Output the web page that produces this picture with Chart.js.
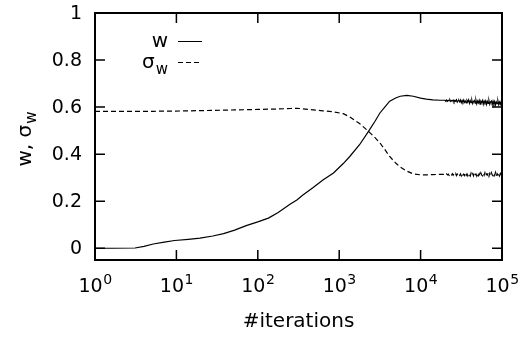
<!DOCTYPE html>
<html>
<head>
<meta charset="utf-8">
<script src="https://cdn.jsdelivr.net/npm/chart.js@4/dist/chart.umd.min.js"></script>
<style>
  html, body { margin: 0; padding: 0; background: #fff; }
  canvas { display: block; }
</style>
</head>
<body>
<canvas id="chart" width="520" height="337"></canvas>
<script>
// iteration counts (log spaced), then the noisy tail from ~2e4 to 1e5
const iterations = [
  1, 1.6, 3.1, 4, 5.2, 7.1, 9.5, 14, 19.5, 28, 38, 52, 72, 100, 135, 178, 251, 302,
  355, 479, 631, 851, 1122, 1349, 1778, 2291, 2754, 3162, 3631, 4169, 5012, 5623,
  6761, 8128, 10000, 11750, 14130, 17380,
  19950, 20420, 20890, 21380, 21880, 22390, 22910, 23440, 23990, 24550,
  25120, 25700, 26300, 26920, 27540, 28180, 28840, 29510, 30200, 30900,
  31620, 32360, 33110, 33880, 34670, 35480, 36310, 37150, 38020, 38900,
  39810, 40740, 41690, 42660, 43650, 44670, 45710, 46770, 47860, 48980,
  50120, 51290, 52480, 53700, 54950, 56230, 57540, 58880, 60260, 61660,
  63100, 64570, 66070, 67610, 69180, 70790, 72440, 74130, 75860, 77620,
  79430, 81280, 83180, 85110, 87100, 89130, 91200, 93330, 95500, 97720, 100000,
];

const wValues = [
  0, 0, 0.001, 0.008, 0.018, 0.026, 0.033, 0.038, 0.043, 0.052, 0.062, 0.077, 0.096,
  0.112, 0.128, 0.152, 0.188, 0.205, 0.225, 0.258, 0.29, 0.32, 0.36, 0.39, 0.44, 0.497,
  0.54, 0.575, 0.6, 0.625, 0.64, 0.646, 0.65, 0.646, 0.638, 0.634, 0.631, 0.629,
  0.629, 0.626, 0.63, 0.625, 0.629, 0.627, 0.631, 0.624, 0.628, 0.626,
  0.63, 0.622, 0.628, 0.625, 0.631, 0.621, 0.627, 0.629, 0.622, 0.63,
  0.619, 0.628, 0.621, 0.63, 0.62, 0.626, 0.618, 0.629, 0.623, 0.631,
  0.616, 0.627, 0.619, 0.629, 0.615, 0.624, 0.628, 0.617, 0.63, 0.614,
  0.626, 0.618, 0.629, 0.613, 0.625, 0.62, 0.628, 0.612, 0.626, 0.619,
  0.627, 0.611, 0.624, 0.616, 0.628, 0.612, 0.622, 0.626, 0.61, 0.625,
  0.613, 0.624, 0.609, 0.622, 0.615, 0.626, 0.61, 0.621, 0.612, 0.624, 0.615,
];

const sigmaValues = [
  0.582, 0.582, 0.582, 0.582, 0.582, 0.583, 0.583, 0.584, 0.585, 0.586, 0.587, 0.588,
  0.589, 0.59, 0.591, 0.592, 0.594, 0.595, 0.593, 0.588, 0.584, 0.58, 0.572, 0.558,
  0.53, 0.497, 0.47, 0.448, 0.42, 0.39, 0.36, 0.345, 0.328, 0.316, 0.312, 0.312, 0.313,
  0.314,
  0.314, 0.311, 0.316, 0.312, 0.315, 0.31, 0.316, 0.313, 0.311, 0.317,
  0.31, 0.316, 0.312, 0.318, 0.309, 0.315, 0.311, 0.317, 0.31, 0.316,
  0.308, 0.318, 0.311, 0.315, 0.309, 0.319, 0.31, 0.316, 0.308, 0.318,
  0.312, 0.307, 0.319, 0.31, 0.317, 0.308, 0.32, 0.311, 0.316, 0.307,
  0.319, 0.309, 0.317, 0.306, 0.32, 0.312, 0.308, 0.318, 0.31, 0.321,
  0.307, 0.316, 0.311, 0.32, 0.306, 0.318, 0.309, 0.321, 0.312, 0.308,
  0.319, 0.31, 0.322, 0.307, 0.317, 0.311, 0.32, 0.308, 0.318, 0.312, 0.316,
];

const yTicks = [0, 0.2, 0.4, 0.6, 0.8, 1];
const yTickLabels = ["0", "0.2", "0.4", "0.6", "0.8", "1"];
const xTicks = [1, 10, 100, 1000, 10000, 100000];
const xTickExponents = ["0", "1", "2", "3", "4", "5"];

const baseFont = "19px 'DejaVu Sans'";
const supFont = "14px 'DejaVu Sans'";
const titleFont = "20px 'DejaVu Sans'";
const subFont = "15px 'DejaVu Sans'";

function toPoints(values) {
  return iterations.map((x, i) => ({ x, y: values[i] }));
}

// gnuplot-like frame: box, inward ticks on all sides, labels, legend
const framePlugin = {
  id: "frame",
  afterDatasetsDraw(chart) {
    const { ctx, chartArea: a, scales } = chart;
    ctx.save();
    ctx.strokeStyle = "#000";
    ctx.fillStyle = "#000";

    ctx.lineWidth = 2;
    ctx.strokeRect(a.left, a.top, a.right - a.left, a.bottom - a.top);

    ctx.lineWidth = 1.5;
    ctx.beginPath();
    yTicks.forEach((v) => {
      const y = scales.y.getPixelForValue(v);
      ctx.moveTo(a.left, y);
      ctx.lineTo(a.left + 10, y);
      ctx.moveTo(a.right, y);
      ctx.lineTo(a.right - 10, y);
    });
    xTicks.forEach((v) => {
      const x = scales.x.getPixelForValue(v);
      ctx.moveTo(x, a.bottom);
      ctx.lineTo(x, a.bottom - 10);
      ctx.moveTo(x, a.top);
      ctx.lineTo(x, a.top + 10);
    });
    ctx.stroke();

    // y tick labels
    ctx.font = baseFont;
    ctx.textAlign = "right";
    ctx.textBaseline = "middle";
    yTicks.forEach((v, i) => {
      ctx.fillText(yTickLabels[i], a.left - 13, scales.y.getPixelForValue(v) + 1);
    });

    // x tick labels 10^n
    ctx.textAlign = "left";
    ctx.textBaseline = "alphabetic";
    xTicks.forEach((v, i) => {
      const x = scales.x.getPixelForValue(v);
      ctx.font = baseFont;
      const w1 = ctx.measureText("10").width;
      ctx.font = supFont;
      const w2 = ctx.measureText(xTickExponents[i]).width;
      const start = x - (w1 + w2) / 2;
      ctx.font = baseFont;
      ctx.fillText("10", start, a.bottom + 32);
      ctx.font = supFont;
      ctx.fillText(xTickExponents[i], start + w1 + 0.5, a.bottom + 24);
    });

    // x title
    ctx.font = titleFont;
    ctx.textAlign = "center";
    ctx.fillText("#iterations", (a.left + a.right) / 2, a.bottom + 67);

    // y title: "w, σ" + subscript w
    ctx.save();
    ctx.translate(31, (a.top + a.bottom) / 2 + 3);
    ctx.rotate(-Math.PI / 2);
    ctx.textAlign = "left";
    ctx.font = titleFont;
    const main = ctx.measureText("w, σ").width;
    ctx.font = subFont;
    const sub = ctx.measureText("w").width;
    const sx = -(main + sub) / 2;
    ctx.font = titleFont;
    ctx.fillText("w, σ", sx, 0);
    ctx.font = subFont;
    ctx.fillText("w", sx + main + 1, 5);
    ctx.restore();

    // legend
    const textRight = a.left + 73;
    const sampleLeft = a.left + 83;
    const sampleRight = a.left + 107;
    ctx.font = titleFont;
    ctx.textAlign = "right";
    ctx.fillText("w", textRight, a.top + 34);
    ctx.font = subFont;
    const subW = ctx.measureText("w").width;
    ctx.fillText("w", textRight, a.top + 61);
    ctx.font = titleFont;
    ctx.fillText("σ", textRight - subW - 1, a.top + 55);

    ctx.lineWidth = 1;
    ctx.beginPath();
    ctx.moveTo(sampleLeft, a.top + 28.5);
    ctx.lineTo(sampleRight, a.top + 28.5);
    ctx.stroke();
    ctx.setLineDash([5, 3]);
    ctx.beginPath();
    ctx.moveTo(sampleLeft, a.top + 49.5);
    ctx.lineTo(sampleRight, a.top + 49.5);
    ctx.stroke();

    ctx.restore();
  },
};

new Chart(document.getElementById("chart"), {
  type: "line",
  data: {
    datasets: [
      {
        label: "w",
        data: toPoints(wValues),
        borderColor: "#000",
        borderWidth: 1.2,
        pointRadius: 0,
        tension: 0,
      },
      {
        label: "σw",
        data: toPoints(sigmaValues),
        borderColor: "#000",
        borderWidth: 1.2,
        borderDash: [5, 3],
        pointRadius: 0,
        tension: 0,
      },
    ],
  },
  options: {
    responsive: false,
    animation: false,
    devicePixelRatio: 1,
    layout: { padding: { left: 95, right: 18, top: 13, bottom: 77 } },
    plugins: {
      legend: { display: false },
      tooltip: { enabled: false },
    },
    scales: {
      x: { type: "logarithmic", min: 1, max: 100000, display: false },
      y: { type: "linear", min: -0.05, max: 1, display: false },
    },
  },
  plugins: [framePlugin],
});
</script>
</body>
</html>
